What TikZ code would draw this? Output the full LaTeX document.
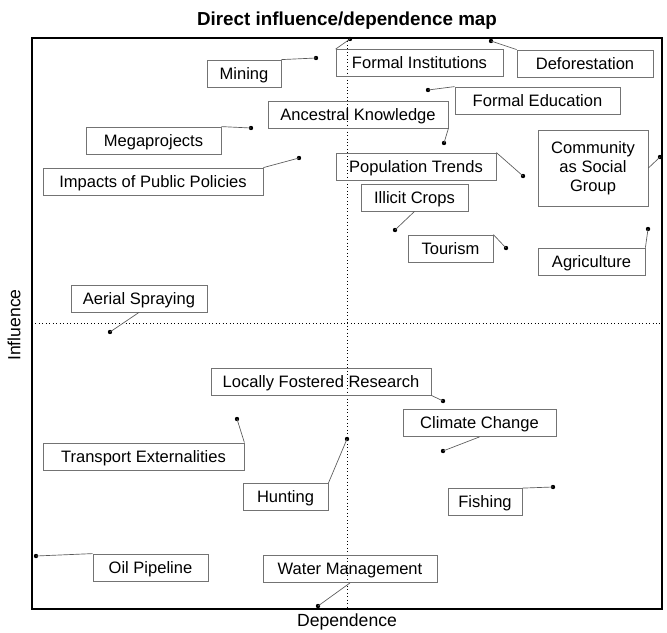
\documentclass[tikz,border=0pt]{standalone}
\usepackage{fontspec}
\setmainfont{Liberation Sans}
\begin{document}
\begin{tikzpicture}[x=0.75pt,y=-0.75pt,
  bx/.style={draw=black!55, line width=0.6pt, inner sep=0pt, minimum height=27*0.75pt,
    text height=8.9pt, text depth=0pt,
    font=\fontsize{12.4}{14.3}\selectfont},
  mbx/.style={draw=black!55, line width=0.6pt, inner sep=0pt, align=center,
    font=\fontsize{12.4}{14.3}\selectfont},
  dot/.style={circle, fill=black, inner sep=0pt, minimum size=4.4*0.75pt},
  conn/.style={draw=black!65, line width=0.5pt},
  divider/.style={dotted, line width=0.6pt}]
\useasboundingbox (0,0) rectangle (667,632);
% title and axis labels
\node[font=\bfseries\fontsize{14.1}{16}\selectfont] (title) at (347,21) {Direct influence/dependence map};
\node[font=\fontsize{13.2}{15}\selectfont, rotate=90] (yl) at (14,325) {Influence};
\node[font=\fontsize{13.2}{15}\selectfont] (xl) at (347,622) {Dependence};
% frame and dividers
\draw[line width=1.6pt] (32,38) rectangle (662,609);
\draw[divider] (347,38) -- (347,609);
\draw[divider] (32,323) -- (662,323);
% boxes
\node[bx, minimum width=74*0.75pt] (min) at (244,73.5) {Mining};
\node[bx, minimum width=167*0.75pt] (fi) at (419.5,63) {Formal Institutions};
\node[bx, minimum width=136*0.75pt] (def) at (585,63.5) {Deforestation};
\node[bx, minimum width=165*0.75pt] (fe) at (537.5,100.5) {Formal Education};
\node[bx, minimum width=180*0.75pt] (ak) at (358,114.5) {Ancestral Knowledge};
\node[bx, minimum width=135*0.75pt] (meg) at (153.5,140.5) {Megaprojects};
\node[bx, minimum width=220*0.75pt] (ipp) at (153,181.5) {Impacts of Public Policies};
\node[bx, minimum width=160*0.75pt] (pt) at (416,166.5) {Population Trends};
\node[mbx, minimum width=110*0.75pt, minimum height=76*0.75pt] (com) at (593,168) {Community\\as Social\\Group};
\node[bx, minimum width=107*0.75pt] (ic) at (414.5,197.5) {Illicit Crops};
\node[bx, minimum width=85*0.75pt] (tou) at (450.5,248.5) {Tourism};
\node[bx, minimum width=107*0.75pt] (agr) at (591.5,261.5) {Agriculture};
\node[bx, minimum width=136*0.75pt] (as) at (139,298.5) {Aerial Spraying};
\node[bx, minimum width=220*0.75pt] (lfr) at (321,381.5) {Locally Fostered Research};
\node[bx, minimum width=153*0.75pt] (cc) at (479.5,423) {Climate Change};
\node[bx, minimum width=201*0.75pt] (te) at (143.5,456.5) {Transport Externalities};
\node[bx, minimum width=85*0.75pt] (hun) at (285.5,497) {Hunting};
\node[bx, minimum width=74*0.75pt] (fis) at (485,502) {Fishing};
\node[bx, minimum width=115*0.75pt] (oil) at (150.5,567.5) {Oil Pipeline};
\node[bx, minimum width=174*0.75pt] (wm) at (350,569) {Water Management};
% dots
\node[dot] (dmin) at (316,58) {};
\node[dot] (dfi) at (350,39) {};
\node[dot] (ddef) at (491,41) {};
\node[dot] (dfe) at (428,90) {};
\node[dot] (dak) at (444,143) {};
\node[dot] (dmeg) at (251,128) {};
\node[dot] (dipp) at (299,158) {};
\node[dot] (dpt) at (523,176) {};
\node[dot] (dcom) at (660,157) {};
\node[dot] (dic) at (395,230) {};
\node[dot] (dtou) at (506,248) {};
\node[dot] (dagr) at (648,229) {};
\node[dot] (das) at (110,332) {};
\node[dot] (dlfr) at (443,401) {};
\node[dot] (dcc) at (443,451) {};
\node[dot] (dte) at (237,419) {};
\node[dot] (dhun) at (347,439) {};
\node[dot] (dfis) at (553,487) {};
\node[dot] (doil) at (36,556) {};
\node[dot] (dwm) at (318,606) {};
% connectors
\draw[conn] (min.north east) -- (dmin.center);
\draw[conn] (fi.north west) -- (dfi.center);
\draw[conn] (def.north west) -- (ddef.center);
\draw[conn] (fe.north west) -- (dfe.center);
\draw[conn] (ak.south east) -- (dak.center);
\draw[conn] (meg.north east) -- (dmeg.center);
\draw[conn] (ipp.north east) -- (dipp.center);
\draw[conn] (pt.north east) -- (dpt.center);
\draw[conn] (com.east) -- (dcom.center);
\draw[conn] (ic.south) -- (dic.center);
\draw[conn] (tou.north east) -- (dtou.center);
\draw[conn] (agr.north east) -- (dagr.center);
\draw[conn] (as.south) -- (das.center);
\draw[conn] (lfr.south east) -- (dlfr.center);
\draw[conn] (cc.south) -- (dcc.center);
\draw[conn] (te.north east) -- (dte.center);
\draw[conn] (hun.north east) -- (dhun.center);
\draw[conn] (fis.north east) -- (dfis.center);
\draw[conn] (oil.north west) -- (doil.center);
\draw[conn] (wm.south) -- (dwm.center);
\end{tikzpicture}
\end{document}
